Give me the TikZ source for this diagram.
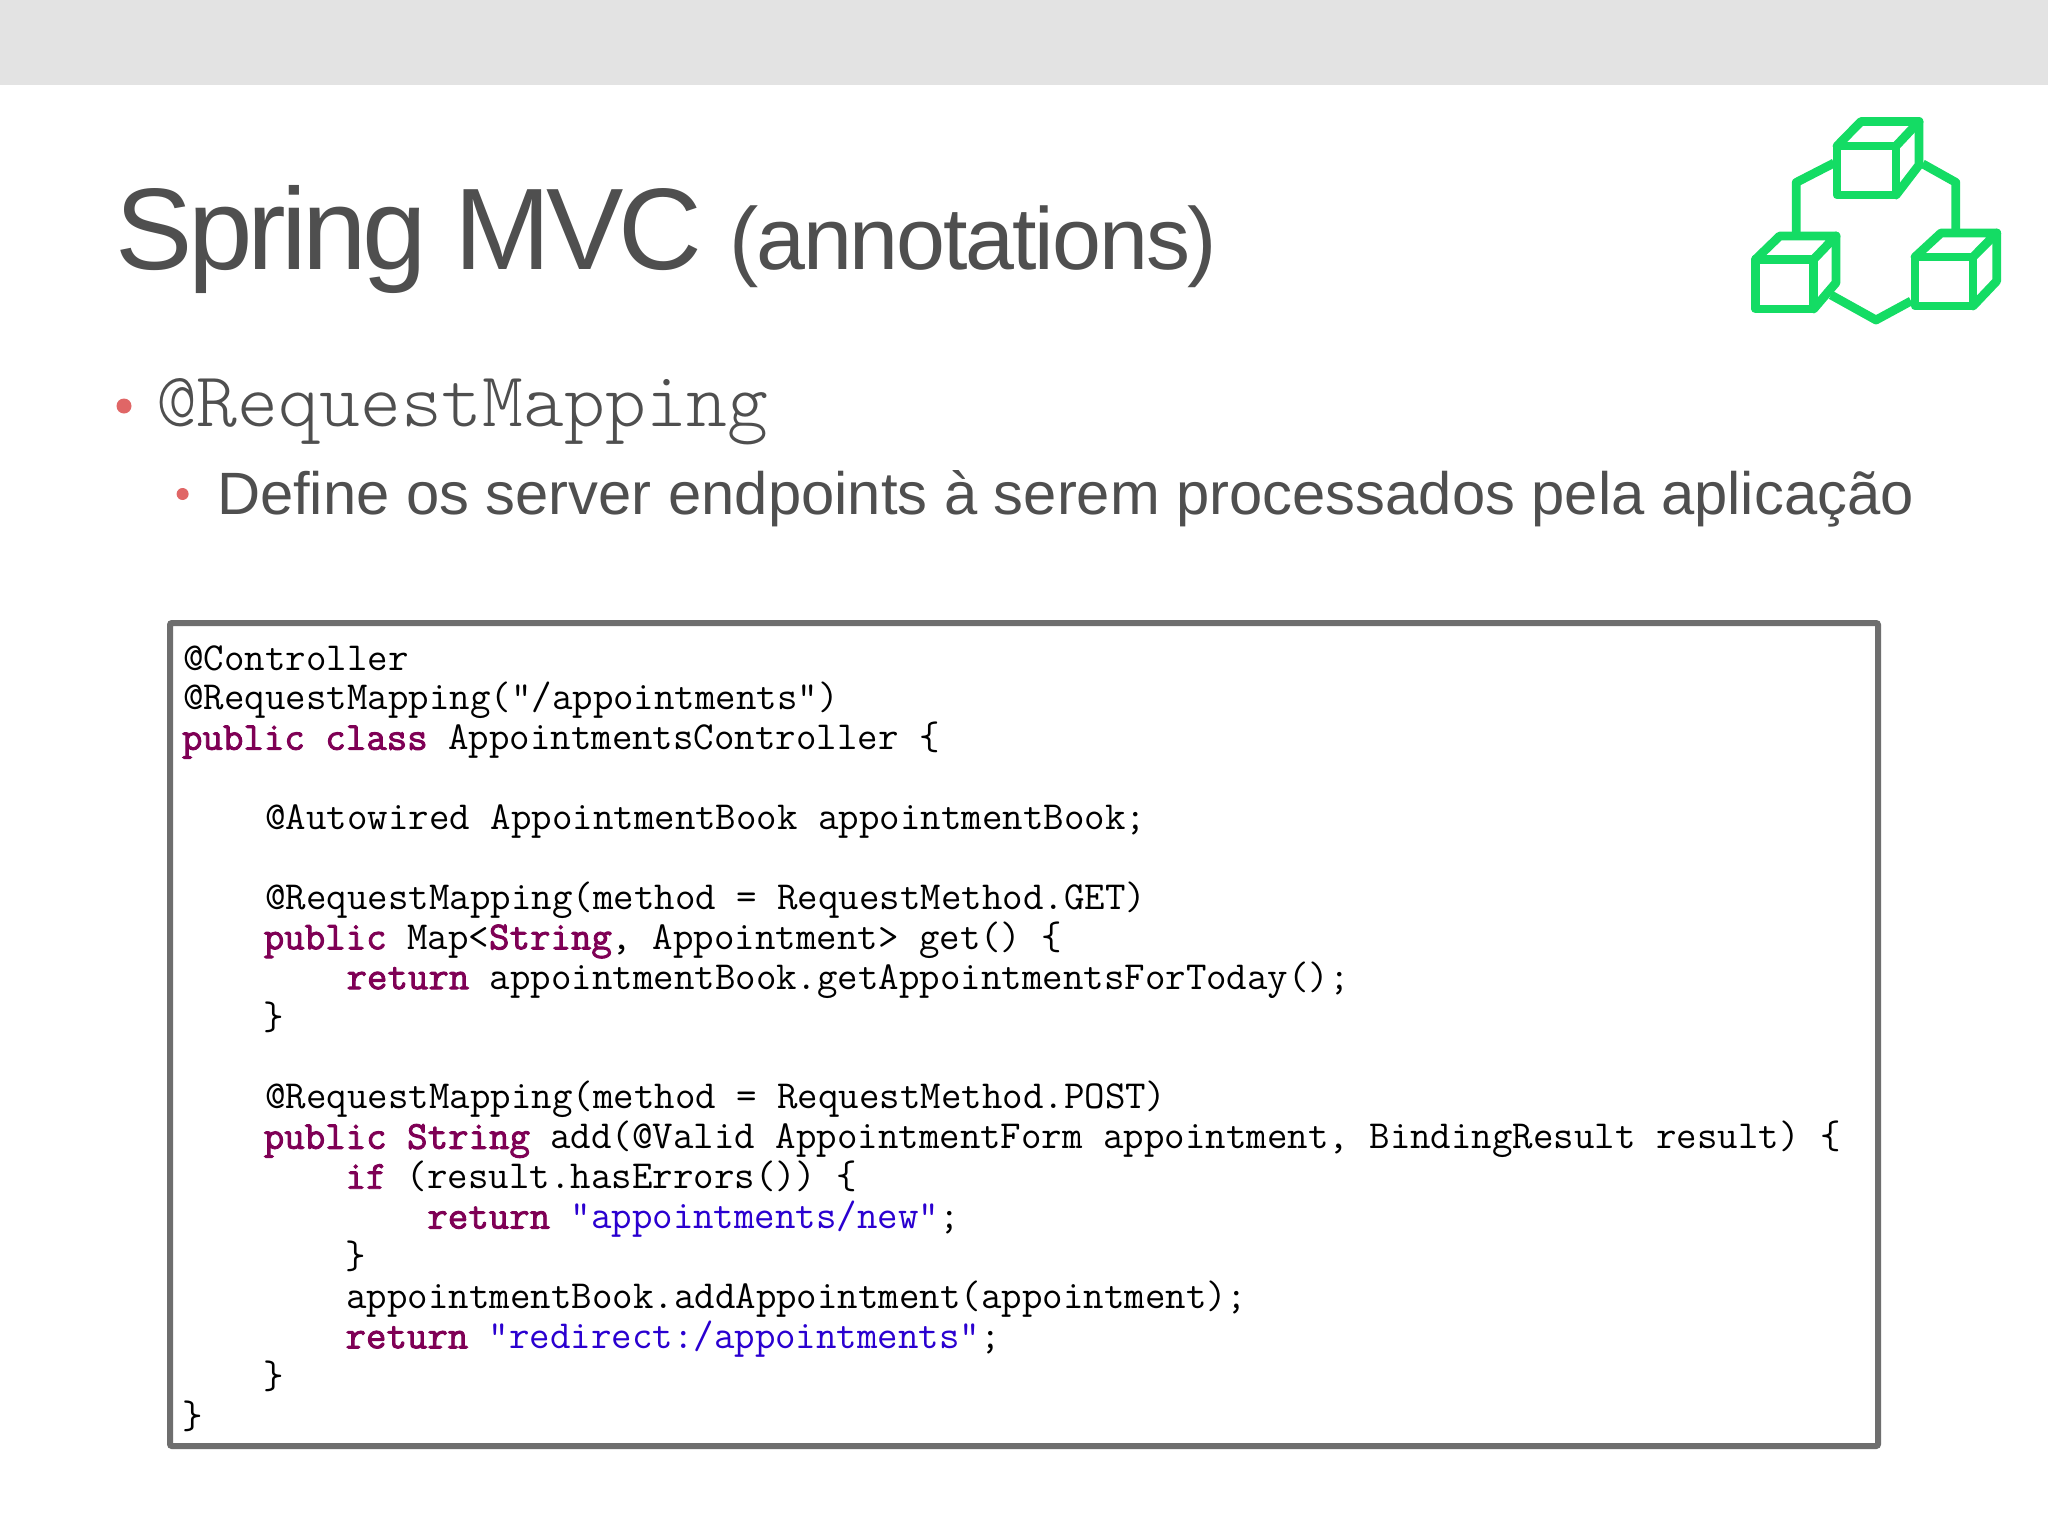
\documentclass[tikz,border=0pt]{standalone}
\usepackage{fontspec}
\setmainfont{Liberation Sans}
\newfontfamily\titlefont[LetterSpace=-4.1]{Liberation Sans}
\newfontfamily\subfont[LetterSpace=-2.4]{Liberation Sans}
\newfontfamily\kwfont[FakeBold=2.2]{Latin Modern Mono}
\definecolor{band}{HTML}{E3E3E3}
\definecolor{ink}{HTML}{4F4F4F}
\definecolor{bul}{HTML}{E06666}
\definecolor{frameg}{HTML}{6E6E6E}
\definecolor{kw}{HTML}{7F0055}
\definecolor{str}{HTML}{2A00D0}
\definecolor{icon}{HTML}{14DC64}
\newcommand{\kwd}[1]{{\kwfont\color{kw}#1}}
\newcommand{\strg}[1]{{\color{str}#1}}
\tikzset{
  x=0.5pt,y=-0.5pt,
  txt/.style={anchor=base west,inner sep=0pt,outer sep=0pt,text=ink},
  code/.style={anchor=base west,inner sep=0pt,outer sep=0pt,text=black,font=\fontsize{19.88}{22}\ttfamily\frenchspacing},
  cube/.style={draw=icon,line width=4.4pt,line join=round,line cap=round},
}
\begin{document}
\begin{tikzpicture}
\useasboundingbox (0,0) rectangle (2048,1536);
\fill[white] (0,0) rectangle (2048,1536);
\fill[band] (0,0) rectangle (2048,85);
% title
\node[txt,font=\fontsize{58}{64}\titlefont] (title) at (115.5,269) {Spring MVC};
\node[txt,font=\fontsize{44}{50}\subfont] (sub) at (729,269) {(annotations)};
% bullets
\fill[bul] (124,406) circle (7.5);
\fill[bul] (182.6,494) circle (6);
\node[txt,font=\fontseries{l}\ttfamily\fontsize{38.9}{42}\selectfont] (b1) at (156,426) {@RequestMapping};
\node[txt,font=\fontsize{29.87}{36}\selectfont] (b2) at (217,514) {Define os server endpoints à serem processados pela aplicação};
% code frame
\draw[frameg,line width=3pt,rounded corners=1pt,fill=white] (170,623) rectangle (1878,1446);
% code
\node[code] (l1) at (183.5,670) {@Controller};
\node[code] (l2) at (183.5,709.9) {@RequestMapping("/appointments")};
\node[code] (l3) at (182,749.8) {\kwd{public class} AppointmentsController \{};
\node[code] (l5) at (265.5,829.6) {@Autowired AppointmentBook appointmentBook;};
\node[code] (l7) at (265.5,909.4) {@RequestMapping(method = RequestMethod.GET)};
\node[code] (l8) at (263.8,949.3) {\kwd{public} Map<\kwd{String}, Appointment> get() \{};
\node[code] (l9) at (346.5,989.2) {\kwd{return} appointmentBook.getAppointmentsForToday();};
\node[code] (l10) at (263.8,1029.1) {\}};
\node[code] (l12) at (265.5,1108.9) {@RequestMapping(method = RequestMethod.POST)};
\node[code] (l13) at (263.8,1148.8) {\kwd{public String} add(@Valid AppointmentForm appointment, BindingResult result) \{};
\node[code] (l14) at (345.5,1188.7) {\kwd{if} (result.hasErrors()) \{};
\node[code] (l15) at (427.3,1228.6) {\kwd{return} \strg{"appointments/new"};};
\node[code] (l16) at (345.5,1268.5) {\}};
\node[code] (l17) at (346.5,1308.4) {appointmentBook.addAppointment(appointment);};
\node[code] (l18) at (345.5,1348.3) {\kwd{return} \strg{"redirect:/appointments"};};
\node[code] (l19) at (263.8,1388.2) {\}};
\node[code] (l20) at (182,1428.1) {\}};
% icon: top cube
\draw[cube] (1837,146) rectangle (1896,195);
\draw[cube] (1837,146) -- (1861,121.5) -- (1919,121.5) -- (1896,146);
\draw[cube] (1919,121.5) -- (1919,165) -- (1896,195);
% left cube
\draw[cube] (1755.5,259.4) rectangle (1813.6,309);
\draw[cube] (1755.5,259.4) -- (1779.7,236) -- (1836,236) -- (1813.6,259.4);
\draw[cube] (1836,236) -- (1836,282.7) -- (1813.6,309);
% right cube
\draw[cube] (1915,257) rectangle (1973,306);
\draw[cube] (1915,257) -- (1941,233) -- (1996.7,233) -- (1973,257);
\draw[cube] (1996.7,233) -- (1996.7,281) -- (1973,306);
% links
\draw[cube,line cap=butt] (1834,163) -- (1796.3,182.4) -- (1796.3,233);
\draw[cube,line cap=butt] (1922.6,163.8) -- (1955.8,182.4) -- (1955.8,229.5);
\draw[cube,line cap=butt] (1831,295) -- (1876,320) -- (1911,301);
\end{tikzpicture}
\end{document}
